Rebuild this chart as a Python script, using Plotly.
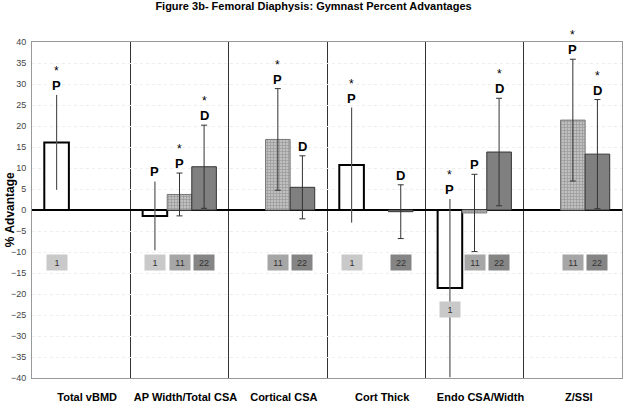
import plotly.graph_objects as go

# categories along the bottom
categories = ["Total vBMD", "AP Width/Total CSA", "Cortical CSA", "Cort Thick", "Endo CSA/Width", "Z/SSI"]

# series "1" (open bars)
adv_1 = [16.1, -1.4, None, 10.7, -18.6, None]
err_1 = [11.3, 8.2, None, 13.7, 21.2, None]
letter_1 = ["P", "P", "", "P", "P", ""]
star_1 = [True, False, False, True, True, False]

# series "11" (hatched bars)
adv_11 = [None, 3.7, 16.8, None, -0.7, 21.4]
err_11 = [None, 5.1, 12.1, None, 9.2, 14.5]
letter_11 = ["", "P", "P", "", "P", "P"]
star_11 = [False, True, True, False, False, True]

# series "22" (dark bars)
adv_22 = [None, 10.3, 5.4, -0.4, 13.8, 13.3]
err_22 = [None, 9.9, 7.5, 6.4, 12.8, 13.0]
letter_22 = ["", "D", "D", "D", "D", "D"]
star_22 = [False, True, False, False, True, True]

box_colors = {"1": "#c9c9c9", "11": "#a6a6a6", "22": "#858585"}

xpos = list(range(len(categories)))
font_main = "Liberation Sans, Arial, sans-serif"
font_narrow = "Liberation Sans Narrow, Arial Narrow, Liberation Sans, Arial"

fig = go.Figure()

# open white bars
fig.add_trace(go.Bar(
    x=xpos, y=adv_1, name="1",
    marker=dict(color="white", line=dict(color="black", width=2)),
    error_y=dict(type="data", array=err_1, color="#555", thickness=1.2, width=0),
))
# hatched bars
fig.add_trace(go.Bar(
    x=xpos, y=adv_11, name="11",
    marker=dict(color="#b8b8b8", line=dict(color="#777", width=1),
                pattern=dict(shape="+", fgcolor="#707070", bgcolor="#c0c0c0", size=3, solidity=0.4)),
    error_y=dict(type="data", array=err_11, color="#333", thickness=1, width=3),
))
# dark bars
fig.add_trace(go.Bar(
    x=xpos, y=adv_22, name="22",
    marker=dict(color="#808080", line=dict(color="#333", width=1)),
    error_y=dict(type="data", array=err_22, color="#333", thickness=1, width=3),
))

# significance letters, stars and series tags
slot = {"1": -0.25, "11": 0.0, "22": 0.25}
annotations = []
for name, vals, errs, letters, stars in [
    ("1", adv_1, err_1, letter_1, star_1),
    ("11", adv_11, err_11, letter_11, star_11),
    ("22", adv_22, err_22, letter_22, star_22),
]:
    for i, (v, e, l, s) in enumerate(zip(vals, errs, letters, stars)):
        if v is None:
            continue
        x = i + slot[name]
        top = v + e
        if l:
            annotations.append(dict(x=x, y=top, text="<b>%s</b>" % l, showarrow=False,
                                    yanchor="bottom", yshift=0,
                                    font=dict(size=13, color="black", family=font_main)))
        if s:
            annotations.append(dict(x=x, y=top, text="*", showarrow=False,
                                    yanchor="bottom", yshift=15,
                                    font=dict(size=12, color="black", family=font_main)))
        tag_y = -12.6 if v > -10 else v - 5.2
        annotations.append(dict(x=x, y=tag_y, text=name, showarrow=False,
                                bgcolor=box_colors[name], width=18, height=13,
                                font=dict(size=9, color="#333", family=font_main)))

# y axis title, kept left of the tick labels
annotations.append(dict(xref="paper", yref="paper", x=-0.037, y=0.5, text="<b>% Advantage</b>",
                        textangle=-90, showarrow=False, xanchor="center", yanchor="middle",
                        font=dict(size=12, color="black", family=font_main)))

fig.update_layout(
    width=627, height=405,
    margin=dict(l=32, r=5, t=42, b=27),
    paper_bgcolor="white", plot_bgcolor="white",
    barmode="group", bargap=0.25, bargroupgap=0,
    showlegend=False,
    title=dict(text="<b>Figure 3b- Femoral Diaphysis: Gymnast Percent Advantages</b>",
               x=0.5, xanchor="center", y=0.995, yanchor="top", pad=dict(t=0),
               font=dict(size=11, color="black", family=font_main)),
    annotations=annotations,
    font=dict(family=font_main),
)

fig.update_xaxes(
    range=[-0.5, 5.5], tickvals=xpos, ticktext=["<b>%s</b>" % c for c in categories],
    tickfont=dict(size=11, color="black", family=font_main),
    showgrid=False, zeroline=False, ticks="", ticklabelstandoff=9, ticklabelshift=6,
    showline=True, linecolor="#999", linewidth=1, mirror=True, automargin=False,
    minor=dict(tick0=0.5, dtick=1, showgrid=True, gridcolor="#333", gridwidth=1),
)
fig.update_yaxes(
    range=[-40, 40], tickmode="linear", tick0=-40, dtick=5,
    tickfont=dict(size=9, color="#444", family=font_narrow),
    showgrid=True, gridcolor="#eeeeee", griddash="dot", gridwidth=1,
    zeroline=True, zerolinecolor="black", zerolinewidth=2,
    showline=True, linecolor="#999", linewidth=1, mirror=True, ticks="", automargin=False,
    ticklabelstandoff=3,
)

# drop the default 8px page margin so the figure fills the window exactly
fig.write_html("out.html", config={"displayModeBar": False},
               post_script="document.body.style.margin='0px';")
